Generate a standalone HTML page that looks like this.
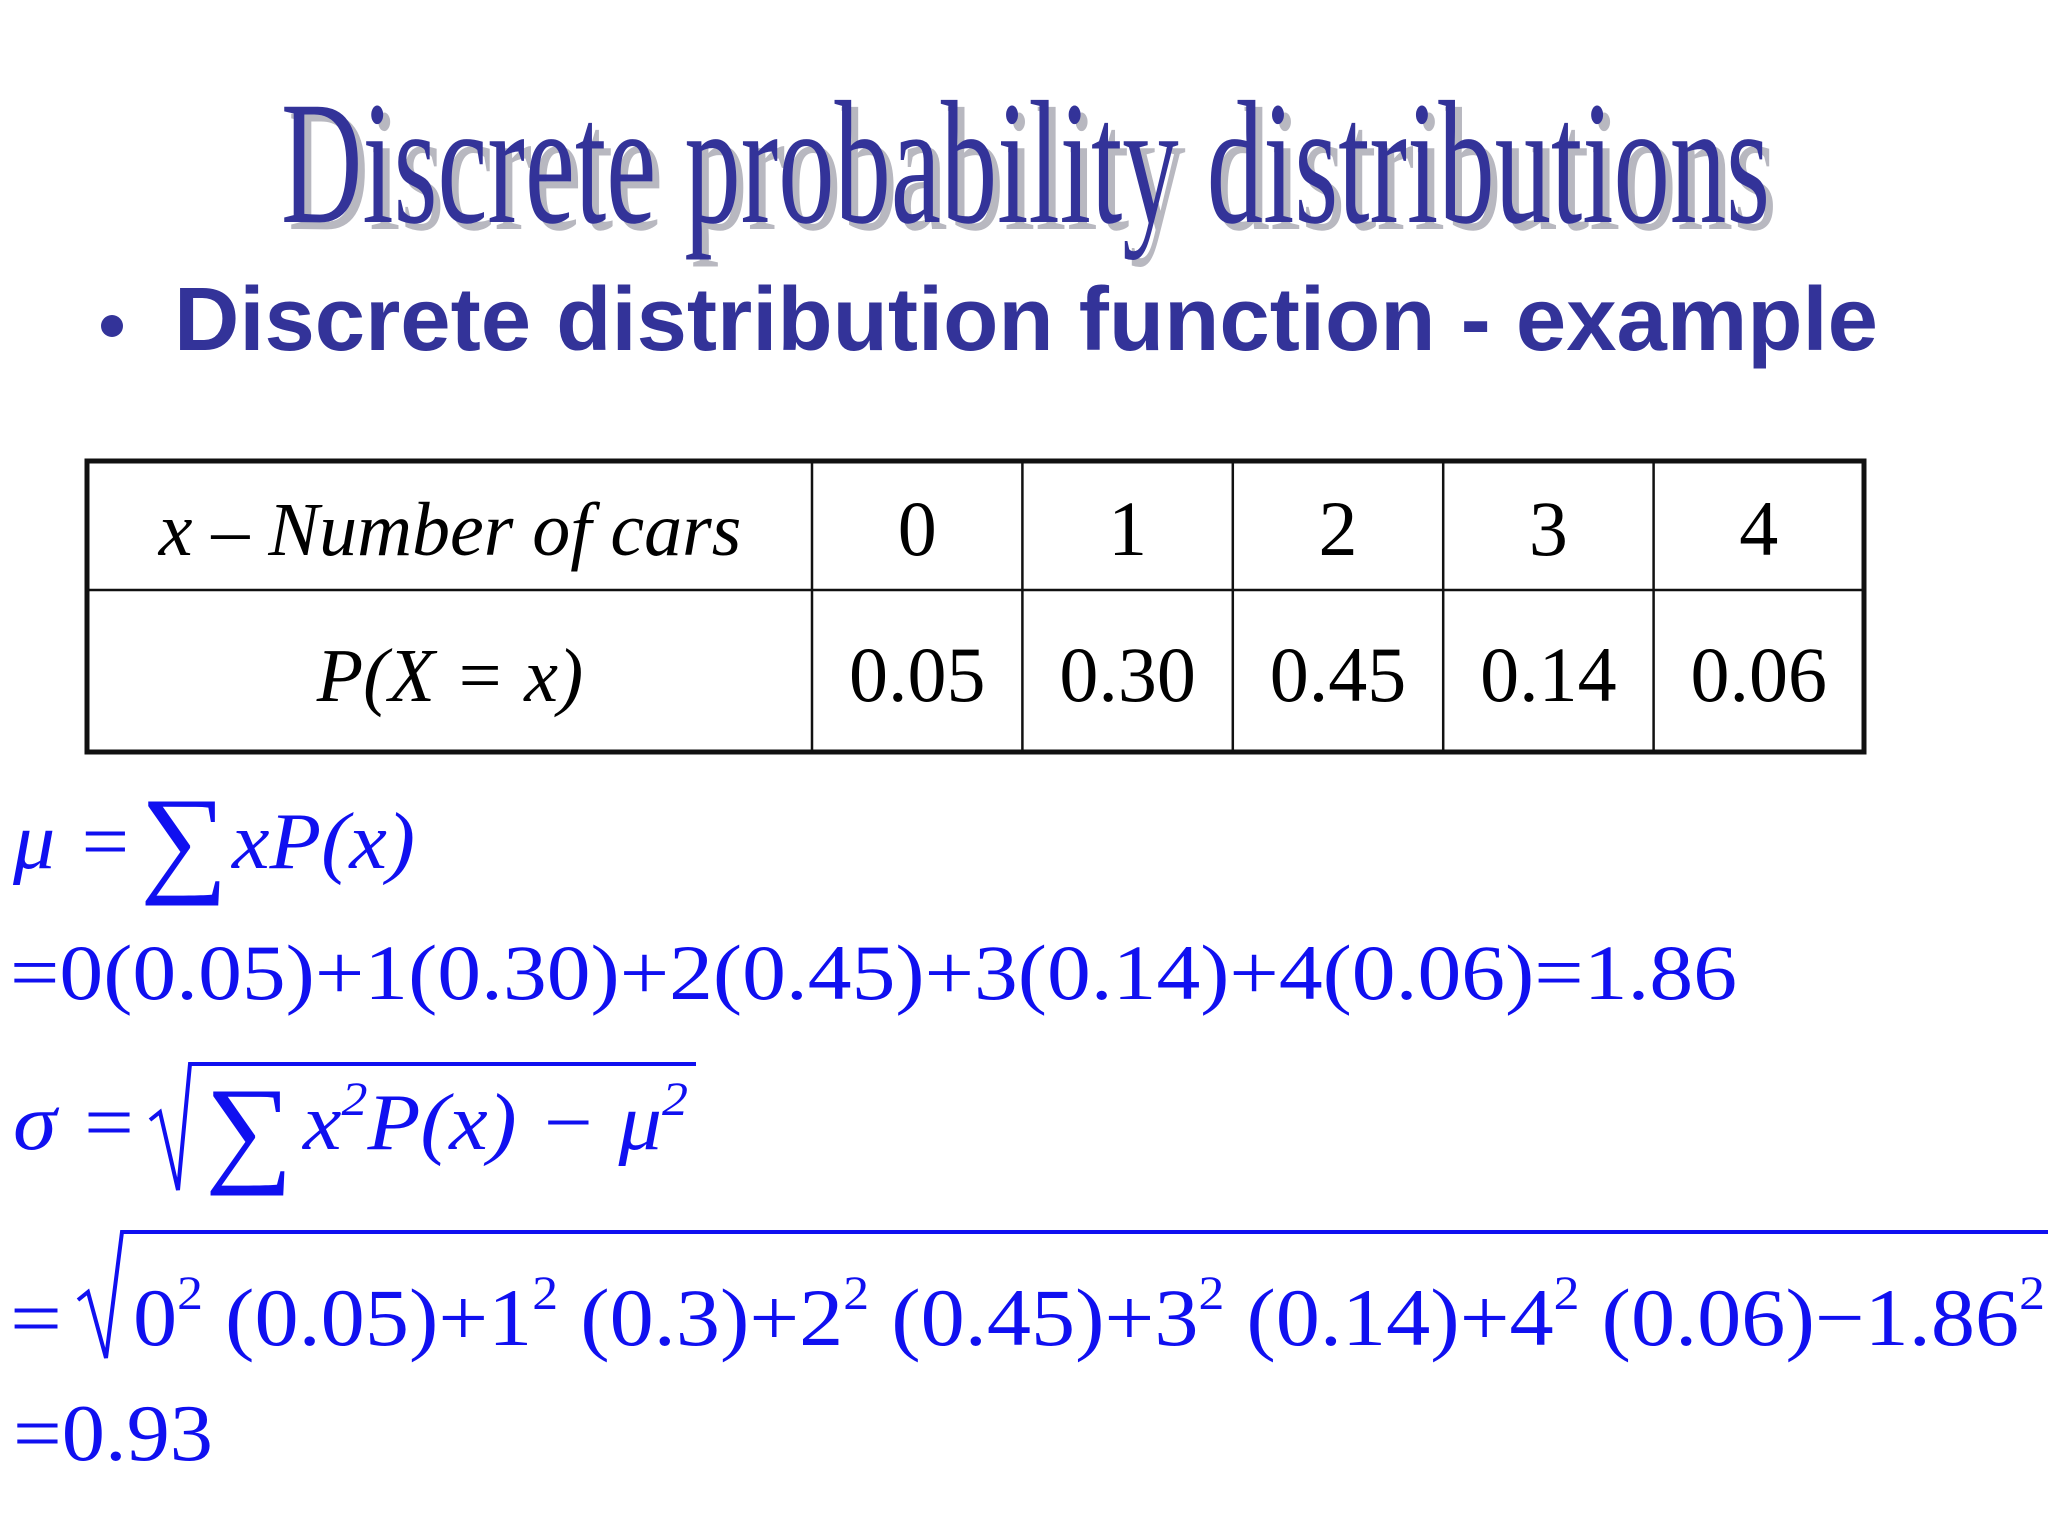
<!DOCTYPE html>
<html><head><meta charset="utf-8"><style>
html,body{margin:0;padding:0;background:#fff;}
svg{display:block;}
.serif{font-family:"Liberation Serif","DejaVu Serif",serif;}
.sans{font-family:"Liberation Sans","DejaVu Sans",sans-serif;}
.blue{fill:#1010f0;}
</style></head><body>
<svg id="slide" width="2048" height="1536" viewBox="0 0 2048 1536" xmlns="http://www.w3.org/2000/svg">
<rect x="0" y="0" width="2048" height="1536" fill="#fff"/>
<g>
<text class="serif" x="288" y="229" font-size="176" textLength="1489" lengthAdjust="spacingAndGlyphs" fill="#b8b8c0">Discrete probability distributions</text>
<text class="serif" x="281" y="222" font-size="176" textLength="1489" lengthAdjust="spacingAndGlyphs" fill="#333399">Discrete probability distributions</text>
</g>
<g>
<circle cx="112" cy="326" r="11" fill="#333399"/>
<text class="sans" x="174" y="350" font-size="90" font-weight="bold" textLength="1704" lengthAdjust="spacingAndGlyphs" fill="#333399">Discrete distribution function - example</text>
</g>
<g id="table"></g>
<g class="serif">
<text class="blue" x="13" y="868" font-size="80" font-style="italic" textLength="120" lengthAdjust="spacingAndGlyphs">μ =</text>
<text class="blue" x="140" y="880" font-size="120" textLength="88" lengthAdjust="spacingAndGlyphs">∑</text>
<text class="blue" x="232" y="868" font-size="80" font-style="italic" textLength="183" lengthAdjust="spacingAndGlyphs">xP(x)</text>
<text class="blue" x="10" y="999" font-size="78" textLength="1727" lengthAdjust="spacingAndGlyphs">=0(0.05)+1(0.30)+2(0.45)+3(0.14)+4(0.06)=1.86</text>
<text class="blue" x="13" y="1149" font-size="80" font-style="italic" textLength="125" lengthAdjust="spacingAndGlyphs">σ =</text>
<path d="M150 1120 L160 1112 L178 1190 L190 1064 L696 1064" fill="none" stroke="#1010f0" stroke-width="4"/>
<text class="blue" x="205" y="1170" font-size="120" textLength="88" lengthAdjust="spacingAndGlyphs">∑</text>
<text class="blue" x="303" y="1149" font-size="80" font-style="italic" textLength="385" lengthAdjust="spacingAndGlyphs">x<tspan font-size="48" dy="-34">2</tspan><tspan dy="34">P(x) − μ</tspan><tspan font-size="48" dy="-34">2</tspan></text>
<text class="blue" x="10" y="1345" font-size="80" textLength="52" lengthAdjust="spacingAndGlyphs">=</text>
<path d="M78 1300 L88 1292 L106 1358 L122 1232 L2048 1232" fill="none" stroke="#1010f0" stroke-width="4"/>
<text class="blue" x="133" y="1345" font-size="82" textLength="1912" lengthAdjust="spacingAndGlyphs">0<tspan font-size="48" dy="-36">2</tspan><tspan dy="36"> (0.05)+1</tspan><tspan font-size="48" dy="-36">2</tspan><tspan dy="36"> (0.3)+2</tspan><tspan font-size="48" dy="-36">2</tspan><tspan dy="36"> (0.45)+3</tspan><tspan font-size="48" dy="-36">2</tspan><tspan dy="36"> (0.14)+4</tspan><tspan font-size="48" dy="-36">2</tspan><tspan dy="36"> (0.06)−1.86</tspan><tspan font-size="48" dy="-36">2</tspan></text>
<text class="blue" x="13" y="1460" font-size="80" textLength="200" lengthAdjust="spacingAndGlyphs">=0.93</text>
</g>
</svg>
<script>
const xValues = ['0','1','2','3','4'];
const probLabels = ['0.05','0.30','0.45','0.14','0.06'];
(function(){
const tg = document.getElementById('table');
const NS = 'http://www.w3.org/2000/svg';
function mk(tag, attrs){const e=document.createElementNS(NS,tag);for(const k in attrs)e.setAttribute(k,attrs[k]);tg.appendChild(e);return e;}
const tLeft=87, tTop=461, tRight=1864, tBottom=752, firstCol=812, rowDiv=590;
const colW=(tRight-firstCol)/xValues.length;
const r=mk('rect',{x:tLeft,y:tTop,width:tRight-tLeft,height:tBottom-tTop,fill:'none',stroke:'#111','stroke-width':5});


const l=mk('line',{x1:tLeft,y1:rowDiv,x2:tRight,y2:rowDiv,stroke:'#111','stroke-width':2.5});


for(let i=0;i<xValues.length;i++){
  const x=firstCol+i*colW;
  const d=mk('line',{x1:x,y1:tTop,x2:x,y2:tBottom,stroke:'#111','stroke-width':2.5});
  
  
  const a=mk('text',{x:x+colW/2,y:555,'font-size':78,'text-anchor':'middle','class':'serif',fill:'#000'});
  a.textContent=xValues[i];
  
  
  const b=mk('text',{x:x+colW/2,y:701,'font-size':78,'text-anchor':'middle','class':'serif',fill:'#000'});
  b.textContent=probLabels[i];
  
  
}
const h1=mk('text',{x:450,y:555,'font-size':76,'text-anchor':'middle','class':'serif','font-style':'italic',fill:'#000'});
h1.textContent='x – Number of cars';


const h2=mk('text',{x:450,y:701,'font-size':76,'text-anchor':'middle','class':'serif','font-style':'italic',fill:'#000'});
h2.textContent='P(X = x)';


})();
</script>
</body></html>
